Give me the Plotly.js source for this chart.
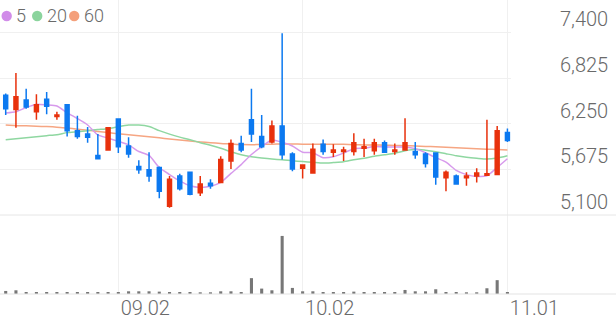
<!DOCTYPE html>
<html>
<head>
<meta charset="utf-8">
<script src="https://cdn.plot.ly/plotly-3.0.1.min.js"></script>
<style>
  html, body { margin: 0; padding: 0; background: #ffffff; }
  #chart { width: 616px; height: 321px; }
</style>
</head>
<body>
<div id="chart"></div>
<script>
// ---- data ----
const dates = [
  '2024-08-16','2024-08-19','2024-08-20','2024-08-21','2024-08-22','2024-08-23','2024-08-26','2024-08-27','2024-08-28','2024-08-29','2024-08-30',
  '2024-09-02','2024-09-03','2024-09-04','2024-09-05','2024-09-06','2024-09-09','2024-09-10','2024-09-11','2024-09-12','2024-09-13',
  '2024-09-19','2024-09-20','2024-09-23','2024-09-24','2024-09-25','2024-09-26','2024-09-27','2024-09-30',
  '2024-10-02','2024-10-04','2024-10-07','2024-10-08','2024-10-10','2024-10-11','2024-10-14','2024-10-15','2024-10-16','2024-10-17','2024-10-18',
  '2024-10-21','2024-10-22','2024-10-23','2024-10-24','2024-10-25','2024-10-28','2024-10-29','2024-10-30','2024-10-31',
  '2024-11-01'
];
const openP  = [6610,6430,6550,6400,6560,6340,6490,6160,6120,5850,5920,6310,5970,5710,5670,5700,5210,5590,5640,5380,5500,5510,5780,6000,6300,6090,6020,6220,5870,5690,5630,5990,5890,5900,5900,5940,5910,6010,5900,5920,5900,5870,5880,5570,5590,5570,5590,5600,5610,6140];
const highP  = [6630,6890,6690,6620,6650,6400,6500,6350,6210,6120,6210,6320,6080,5790,5890,5710,5590,5620,5640,5590,5550,5840,6050,6100,6690,6360,6290,7390,5890,5740,6000,6050,5990,5960,6130,6060,6060,6040,6000,6320,6020,5890,5890,5660,5610,5640,5690,6300,6220,6190];
const lowP   = [6360,6200,6440,6300,6370,6300,6090,6060,6010,5800,5920,5880,5820,5620,5520,5310,5190,5410,5350,5340,5430,5500,5680,5890,6020,5940,6000,5800,5650,5560,5620,5860,5830,5780,5850,5830,5860,5880,5860,5910,5810,5700,5480,5400,5480,5470,5510,5590,5610,6020];
const closeP = [6440,6590,6460,6490,6470,6360,6160,6090,6080,5810,6200,5960,5870,5670,5590,5400,5550,5430,5360,5490,5470,5800,6000,5920,6120,5960,6220,5860,5680,5730,5930,5900,5920,5920,6010,5960,6010,5890,5920,6010,5860,5750,5580,5640,5490,5590,5630,5620,6160,6040];
const volume = [9,11,6,6,6,6,6,6,6,6,6,6,8,8,8,7,6,6,6,5,5,8,8,6,47,16,11,172,18,8,8,6,6,6,7,6,6,6,6,12,8,8,14,6,6,5,5,17,41,6];
const ma5  = [6385,6400,6454,6496,6487,6473,6388,6315,6234,6110,6069,6028,5984,5900,5850,5698,5610,5529,5468,5448,5461,5510,5624,5735,5862,5961,6045,6016,5970,5891,5885,5822,5834,5881,5936,5941,5963,5956,5956,5956,5936,5884,5823,5766,5662,5609,5586,5594,5699,5809];
const ma20 = [6049,6062,6074,6087,6100,6112,6138,6150,6163,6176,6188,6213,6233,6233,6214,6163,6119,6081,6049,6011,5980,5942,5897,5859,5834,5818,5805,5796,5783,5774,5764,5754,5761,5771,5796,5815,5840,5859,5878,5910,5929,5916,5897,5872,5847,5828,5815,5805,5818,5847];
const ma60 = [6233,6226,6223,6218,6214,6207,6195,6182,6169,6153,6138,6125,6112,6100,6087,6072,6058,6045,6033,6021,6011,6001,5995,5988,5986,5988,5992,5995,5995,5992,5992,5992,5992,5990,5986,5983,5982,5980,5976,5973,5969,5964,5961,5954,5948,5942,5935,5929,5925,5920];
const maNames = ['5','20','60'];
const priceTicks = [5100,5675,6250,6825,7400];
const dateTickVals = ['2024-09-02','2024-10-02','2024-11-01'];
const dateTickText = ['09.02','10.02','11.01'];

// ---- styles ----
const RED = '#e8310c', BLUE = '#0c79f0';
const MA_COLORS = ['#d79aec','#8fd7a1','#f6a683'];
const LEG_COLORS = ['#d18ce9','#8bd49d','#f4a07b'];
const TXT = '#6a6a6a';
const FONT = 'Roboto, "Noto Sans", sans-serif';
const PRICE_RANGE = [5100, 7809];
const W = 616, PLOT_H = 294;
const splitY = 79/PLOT_H;
// legend layout (pixels)
const LEG_DOT_X = [6.7, 37.2, 74.2];
const LEG_TEXT_X = [13.5, 45.2, 81.8];
const LEG_Y = 16;

const traces = [];
[ma60, ma20, ma5].forEach((arr, k) => {
  const idx = 2 - k;
  traces.push({
    type: 'scatter', mode: 'lines', x: dates, y: arr, name: maNames[idx],
    xaxis: 'x', yaxis: 'y',
    line: {color: MA_COLORS[idx], width: 1.5, shape: 'spline', smoothing: 0.6},
    hoverinfo: 'skip', showlegend: false
  });
});
traces.push({
  type: 'candlestick', x: dates, open: openP, high: highP, low: lowP, close: closeP,
  xaxis: 'x', yaxis: 'y3', whiskerwidth: 0,
  increasing: {line: {color: RED, width: 1.5}, fillcolor: RED},
  decreasing: {line: {color: BLUE, width: 1.5}, fillcolor: BLUE},
  showlegend: false, hoverinfo: 'skip'
});
traces.push({
  type: 'bar', x: dates, y: volume, xaxis: 'x', yaxis: 'y2',
  marker: {color: '#777777'}, width: 0.3, showlegend: false, hoverinfo: 'skip'
});

const shapes = [
  {type: 'line', xref: 'paper', yref: 'paper', x0: 0, x1: 1, y0: splitY, y1: splitY,
   line: {color: '#e6e6e6', width: 1}},
  {type: 'line', xref: 'paper', yref: 'paper', x0: 0, x1: 1, y0: 0, y1: 0,
   line: {color: '#e3e3e3', width: 1}}
];
const annotations = [];
maNames.forEach((n, i) => {
  shapes.push({
    type: 'circle', xref: 'paper', yref: 'paper',
    xsizemode: 'pixel', ysizemode: 'pixel',
    xanchor: LEG_DOT_X[i] / W, yanchor: 1 - LEG_Y / PLOT_H,
    x0: -5.2, x1: 5.2, y0: -5.2, y1: 5.2,
    fillcolor: LEG_COLORS[i], line: {width: 0}
  });
  annotations.push({
    xref: 'paper', yref: 'paper', x: LEG_TEXT_X[i] / W, y: 1 - LEG_Y / PLOT_H,
    xanchor: 'left', yanchor: 'middle', showarrow: false, text: n,
    font: {size: 18, color: TXT, family: FONT, weight: 300}
  });
});

const layout = {
  width: W, height: 321,
  margin: {l: 0, r: 0, t: 0, b: 27},
  paper_bgcolor: '#ffffff', plot_bgcolor: '#ffffff',
  showlegend: false, hovermode: false, dragmode: false,
  boxgap: 0.45,
  font: {family: FONT, color: TXT, size: 20, weight: 300},
  xaxis: {
    type: 'category', domain: [0, 511/W], range: [-0.557, 49.35], anchor: 'y2',
    tickmode: 'array', tickvals: dateTickVals, ticktext: dateTickText,
    showgrid: true, gridcolor: '#f0f0f0', gridwidth: 1,
    showline: false, zeroline: false, ticks: '',
    tickfont: {size: 20, color: TXT, family: FONT, weight: 300},
    ticklabelshift: 27, ticklabelstandoff: 0,
    rangeslider: {visible: false}, fixedrange: true
  },
  yaxis: {
    domain: [splitY, 1], range: PRICE_RANGE, side: 'right', anchor: 'x',
    tickmode: 'array', tickvals: priceTicks, tickformat: ',d',
    showgrid: true, gridcolor: '#f0f0f0', gridwidth: 1,
    zeroline: false, showline: false, ticks: '',
    tickfont: {size: 20, color: TXT, family: FONT, weight: 300},
    ticklabelstandoff: 48, ticklabelshift: -13, fixedrange: true
  },
  yaxis3: {
    overlaying: 'y', range: PRICE_RANGE, side: 'right', anchor: 'x',
    showgrid: false, showticklabels: false, zeroline: false, showline: false,
    ticks: '', fixedrange: true
  },
  yaxis2: {
    domain: [0, splitY], range: [0, 234], anchor: 'x',
    showgrid: false, showticklabels: false, zeroline: false, showline: false,
    ticks: '', fixedrange: true
  },
  shapes: shapes,
  annotations: annotations
};

Plotly.newPlot('chart', traces, layout, {staticPlot: true, displayModeBar: false});
</script>
</body>
</html>
